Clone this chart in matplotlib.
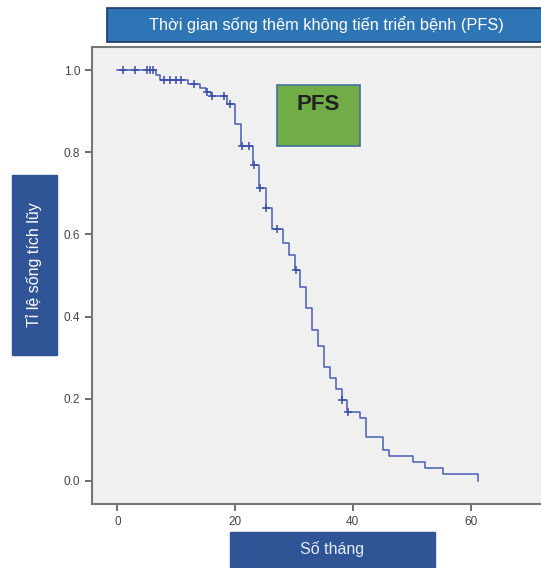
import matplotlib
matplotlib.use("Agg")
import matplotlib.pyplot as plt
from matplotlib.patches import Rectangle

# Kaplan-Meier steps (months, cumulative survival)
event_t = [6.5, 7.2, 12.0, 14.1, 15.0, 15.9, 18.6, 20.0, 21.0, 23.1, 24.1, 25.2,
           26.2, 28.1, 29.1, 30.2, 31.1, 32.1, 33.1, 34.1, 35.1, 36.1, 37.1, 38.2,
           39.1, 41.2, 42.2, 45.2, 46.2, 50.2, 52.2, 55.3, 61.2]
event_s = [0.987, 0.975, 0.966, 0.956, 0.946, 0.937, 0.917, 0.868, 0.814, 0.770,
           0.713, 0.665, 0.613, 0.580, 0.551, 0.513, 0.472, 0.421, 0.368, 0.329,
           0.277, 0.250, 0.224, 0.198, 0.168, 0.153, 0.107, 0.076, 0.062, 0.047,
           0.031, 0.016, 0.0]
# censored cases
cens_t = [0.9, 3.0, 5.0, 5.5, 6.0, 8.0, 9.0, 10.0, 10.8, 13.1, 15.2, 16.1, 18.1,
          19.1, 21.2, 22.3, 23.2, 24.3, 25.3, 27.2, 30.3, 38.2, 39.2]
cens_s = [1.0, 1.0, 1.0, 1.0, 1.0, 0.975, 0.975, 0.975, 0.975, 0.966, 0.946, 0.937,
          0.937, 0.917, 0.814, 0.814, 0.770, 0.713, 0.665, 0.613, 0.513, 0.198, 0.168]

title = "Thời gian sống thêm không tiến triển bệnh (PFS)"
ylabel = "Tỉ lệ sống tích lũy"
xlabel = "Số tháng"

W, H = 541, 568
plt.rcParams['font.family'] = ['Liberation Sans', 'DejaVu Sans']


def fx(px):
    return px / W


def fy(py):
    return 1 - py / H


def box(x0, y0, x1, y1, face, edge, lw=1.0):
    fig.patches.append(Rectangle((fx(x0), fy(y1)), fx(x1) - fx(x0), fy(y0) - fy(y1),
                                 transform=fig.transFigure, facecolor=face,
                                 edgecolor=edge, linewidth=lw, zorder=5))


fig = plt.figure(figsize=(W / 100, H / 100), dpi=100)
fig.patch.set_facecolor("white")

# axes: left spine x=92, top y=47, bottom y=504; runs past the right edge
ax = fig.add_axes([fx(92), fy(504), fx(560) - fx(92), fy(47) - fy(504)])
ax.set_facecolor("#f0f0f0")
ax.set_xlim(-4.3, 75.2)
ax.set_ylim(-0.056, 1.056)

ax.step([0] + event_t, [1.0] + event_s, where="post", color="#4a5cb4", lw=1.1)
ax.plot(cens_t, cens_s, "+", color="#3a4ca8", ms=6, mew=1.1)

ax.set_xticks([0, 20, 40, 60])
ax.set_yticks([0.0, 0.2, 0.4, 0.6, 0.8, 1.0])
ax.set_yticklabels(["%.1f" % v for v in [0.0, 0.2, 0.4, 0.6, 0.8, 1.0]])
ax.tick_params(direction="out", length=5, width=1.2, color="#555555",
               labelsize=8.5, labelcolor="#444444")
for s in ["left", "bottom", "top"]:
    ax.spines[s].set_color("#777777")
    ax.spines[s].set_linewidth(1.5)
ax.spines["right"].set_visible(False)

# title banner
box(107, 8, 545, 42, "#2e75b6", "#1f3864", 1.2)
fig.text(fx(326), fy(25), title, color="white", fontsize=11.8, ha="center",
         va="center", zorder=6)

# y label box
box(12, 175, 57, 355, "#2f5597", "#2f5597")
fig.text(fx(34.5), fy(265), ylabel, color="white", fontsize=11.5, rotation=90,
         ha="center", va="center", zorder=6)

# x label box
box(230, 532, 435, 575, "#2f5597", "#2f5597")
fig.text(fx(332), fy(549), xlabel, color="#e8ecf6", fontsize=11.5, ha="center",
         va="center", zorder=6)

# PFS box
box(277, 85, 360, 146, "#70ad47", "#41719c", 1.2)
fig.text(fx(318.5), fy(104), "PFS", color="#222222", fontsize=16, weight="bold",
         ha="center", va="center", zorder=6)

plt.savefig("out.png", dpi=100)
plt.close()
